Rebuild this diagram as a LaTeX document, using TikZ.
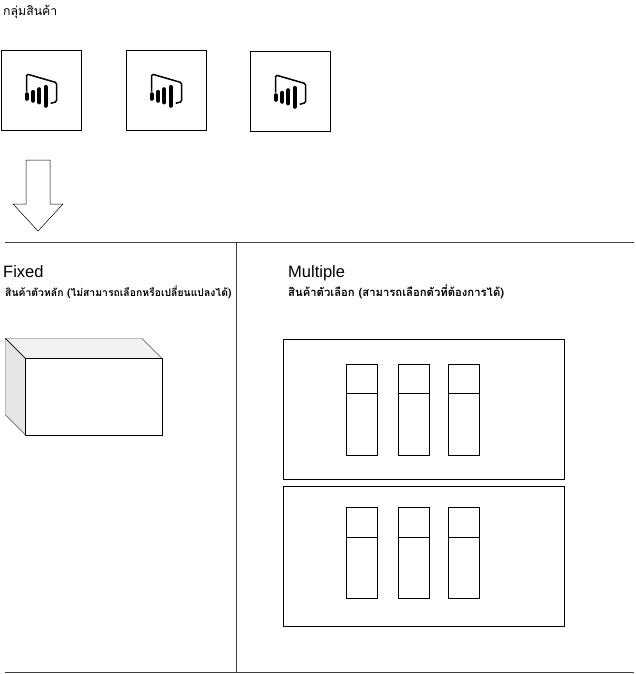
\documentclass[tikz,border=0pt]{standalone}
\usepackage{fontspec}
\setmainfont{Liberation Sans}
\newfontfamily\thaifont[Script=Thai]{Loma}
\usetikzlibrary{positioning}
\tikzset{
    groupbox/.style={draw,minimum width=80pt,minimum height=80pt,inner sep=0pt},
    framebox/.style={draw,anchor=north west,minimum width=281pt,minimum height=140pt,inner sep=0pt},
    slotbox/.style={draw,anchor=north west,minimum width=31pt,minimum height=91pt,inner sep=0pt},
    heading/.style={anchor=base west,inner sep=0pt,font=\fontsize{16.5}{20}\selectfont},
    thaihead/.style={anchor=base west,inner sep=0pt,font=\thaifont\bfseries\fontsize{10.4}{13}\selectfont},
    divider/.style={draw=black!75,line width=0.8pt},
    biicon/.pic={
        \draw[line width=1.5pt,rounded corners=1.5pt] (-14.3,1.7) -- (-14.3,-16) -- (15.7,-7.3) -- (15.7,11.7) -- (9.7,13.3);
        \foreach \xpos/\ytop/\ybot in {-14.3/2.3/10.7,-7.7/0/12.7,-1.7/-2.7/14.3,4.7/-5/17.7}
            \draw[line width=4.2pt,line cap=round] (\xpos,\ytop+2) -- (\xpos,\ybot-2);
    }
}
\begin{document}
\begin{tikzpicture}[x=1pt,y=-1pt]
    \useasboundingbox (0,0) rectangle (635,674);
    \node[anchor=base west,inner sep=0pt,font=\thaifont\fontsize{12.3}{15}\selectfont] (grouplabel) at (3,16) {กลุ่มสินค้า};
    % product group
    \foreach \name/\xpos/\ypos in {grpa/41/90,grpb/166/90,grpc/290/91}{
        \node[groupbox] (\name) at (\xpos,\ypos) {};
        \pic at (\name.center) {biicon};
    }
    \draw[line width=0.5pt,fill=white] (26,160) -- (50,160) -- (50,204) -- (63,204) -- (38,231) -- (13,204) -- (26,204) -- cycle;
    % table lines
    \coordinate (topl) at (5,242);
    \coordinate (topr) at (634,242);
    \coordinate (botl) at (5,672);
    \coordinate (botr) at (634,672);
    \coordinate (midt) at (236.5,242);
    \coordinate (midb) at (236.5,672);
    \draw[divider] (topl) -- (topr);
    \draw[divider] (botl) -- (botr);
    \draw[divider] (midt) -- (midb);
    \node[heading] (fixedlabel) at (3,277) {Fixed};
    \node[thaihead] (fixedsub) at (5,296) {สินค้าตัวหลัก (ไม่สามารถเลือกหรือเปลี่ยนแปลงได้)};
    \node[heading] (multilabel) at (288,277) {Multiple};
    \node[thaihead,font=\thaifont\bfseries\fontsize{11.3}{13}\selectfont] (multisub) at (288,296) {สินค้าตัวเลือก (สามารถเลือกตัวที่ต้องการได้)};
    % fixed box
    \draw[black!70,fill=black!5] (5.5,338.5) -- (142,338.5) -- (162,358.5) -- (25.5,358.5) -- cycle;
    \draw[black!70,fill=black!10] (5.5,338.5) -- (25.5,358.5) -- (25.5,435) -- (5.5,415) -- cycle;
    \draw[black] (5.5,338.5) -- (25.5,358.5);
    \draw[black,fill=white] (25.5,358.5) rectangle (162,435);
    % multiple frames
    \foreach \name/\ytop in {framea/339,frameb/486}{
        \node[framebox] (\name) at (283,\ytop) {};
    }
    \foreach \col/\xpos in {a/345.5,b/397.5,c/448}{
        \foreach \row/\ytop in {a/363.5,b/507}{
            \node[slotbox] (slot\col\row) at (\xpos,\ytop) {};
            \draw ([yshift=-30pt]slot\col\row.north west) -- ([yshift=-30pt]slot\col\row.north east);
        }
    }
\end{tikzpicture}
\end{document}
